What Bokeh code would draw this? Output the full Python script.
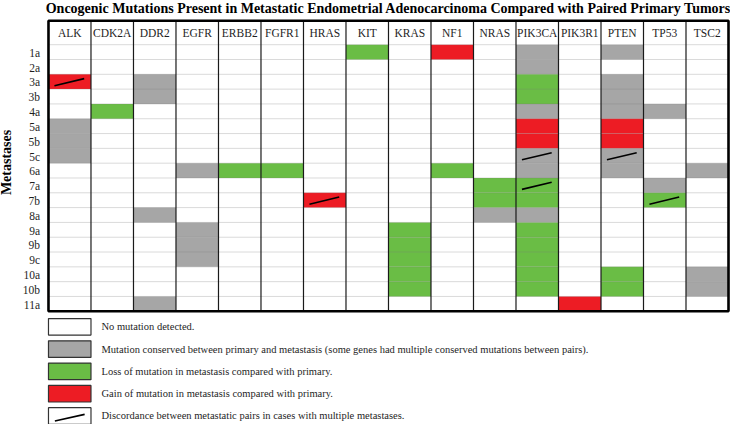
import math
from bokeh.plotting import figure
from bokeh.models import Range1d, ColumnDataSource
from bokeh.core.properties import value
from bokeh.embed import file_html
from bokeh.resources import INLINE

# ---------------- data ----------------
title = ("Oncogenic Mutations Present in Metastatic Endometrial Adenocarcinoma "
         "Compared with Paired Primary Tumors")
axis_label = "Metastases"
genes = ["ALK", "CDK2A", "DDR2", "EGFR", "ERBB2", "FGFR1", "HRAS", "KIT", "KRAS",
         "NF1", "NRAS", "PIK3CA", "PIK3R1", "PTEN", "TP53", "TSC2"]
metastases = ["1a", "2a", "3a", "3b", "4a", "5a", "5b", "5c", "6a", "7a", "7b",
              "8a", "9a", "9b", "9c", "10a", "10b", "11a"]

conserved = [("ALK", "5a"), ("ALK", "5b"), ("ALK", "5c"),
             ("DDR2", "3a"), ("DDR2", "3b"), ("DDR2", "8a"), ("DDR2", "11a"),
             ("EGFR", "6a"), ("EGFR", "9a"), ("EGFR", "9b"), ("EGFR", "9c"),
             ("NRAS", "8a"),
             ("PIK3CA", "1a"), ("PIK3CA", "2a"), ("PIK3CA", "4a"), ("PIK3CA", "5c"),
             ("PIK3CA", "6a"), ("PIK3CA", "8a"),
             ("PTEN", "1a"), ("PTEN", "3a"), ("PTEN", "3b"), ("PTEN", "4a"),
             ("PTEN", "5c"), ("PTEN", "6a"),
             ("TP53", "4a"), ("TP53", "7a"),
             ("TSC2", "6a"), ("TSC2", "10a"), ("TSC2", "10b")]
loss = [("CDK2A", "4a"), ("ERBB2", "6a"), ("FGFR1", "6a"), ("KIT", "1a"),
        ("KRAS", "9a"), ("KRAS", "9b"), ("KRAS", "9c"), ("KRAS", "10a"), ("KRAS", "10b"),
        ("NF1", "6a"), ("NRAS", "7a"), ("NRAS", "7b"),
        ("PIK3CA", "3a"), ("PIK3CA", "3b"), ("PIK3CA", "7a"), ("PIK3CA", "7b"),
        ("PIK3CA", "9a"), ("PIK3CA", "9b"), ("PIK3CA", "9c"), ("PIK3CA", "10a"),
        ("PIK3CA", "10b"),
        ("PTEN", "10a"), ("PTEN", "10b"), ("TP53", "7b")]
gain = [("ALK", "3a"), ("HRAS", "7b"), ("NF1", "1a"), ("PIK3CA", "5a"),
        ("PIK3CA", "5b"), ("PIK3R1", "11a"), ("PTEN", "5a"), ("PTEN", "5b")]
discordant = [("ALK", "3a"), ("HRAS", "7b"), ("PIK3CA", "5c"), ("PIK3CA", "7a"),
              ("PTEN", "5c"), ("TP53", "7b")]

legend_labels = [
    "No mutation detected.",
    "Mutation conserved between primary and metastasis (some genes had multiple conserved mutations between pairs).",
    "Loss of mutation in metastasis compared with primary.",
    "Gain of mutation in metastasis compared with primary.",
    "Discordance between metastatic pairs in cases with multiple metastases.",
]

# ---------------- styles ----------------
WHITE, GRAY, GREEN, RED = "#FFFFFF", "#A6A6A6", "#6ABD45", "#ED1C24"
FONT = value("Liberation Serif")
TXT = "#1E1E1E"

NC, NR = len(genes), len(metastases)
HEADER_H = 1.614          # header row height (row units)
LEG_Y0, LEG_STEP, LEG_H = 18.49, 1.505, 1.12

p = figure(width=730, height=424,
           x_range=Range1d(-1.129, 16.047), y_range=Range1d(25.645, -2.984),
           output_backend="svg", toolbar_location=None,
           x_axis_location=None, y_axis_location=None, min_border=0)
p.outline_line_color = None
p.grid.visible = False
p.background_fill_color = "white"
p.border_fill_color = "white"

# ---------------- cells ----------------
cells = {"left": [], "right": [], "top": [], "bottom": [], "color": []}
for lst, col in ((conserved, GRAY), (loss, GREEN), (gain, RED)):
    for g, m in lst:
        c, r = genes.index(g), metastases.index(m)
        cells["left"].append(c)
        cells["right"].append(c + 1)
        cells["top"].append(r)
        cells["bottom"].append(r + 1)
        cells["color"].append(col)
p.quad(left="left", right="right", top="top", bottom="bottom",
       fill_color="color", line_color=None, source=ColumnDataSource(cells))

# horizontal row lines
hy = list(range(0, NR))
p.segment(x0=[0] * len(hy), x1=[NC] * len(hy), y0=hy, y1=hy,
          line_color="#7A7A7A", line_alpha=0.28, line_width=1)

# vertical column lines
vx = list(range(1, NC))
p.segment(x0=vx, x1=vx, y0=[-HEADER_H] * len(vx), y1=[NR] * len(vx),
          line_color="#1A1A1A", line_width=1.2)

# discordance slashes
dx0 = [genes.index(g) + 0.14 for g, m in discordant]
dx1 = [genes.index(g) + 0.84 for g, m in discordant]
dy0 = [metastases.index(m) + 0.77 for g, m in discordant]
dy1 = [metastases.index(m) + 0.29 for g, m in discordant]
p.segment(x0=dx0, x1=dx1, y0=dy0, y1=dy1, line_color="black", line_width=1.6)

# outer border
p.quad(left=[0], right=[NC], top=[-HEADER_H], bottom=[NR],
       fill_color=None, line_color="black", line_width=2.6)

# header labels
p.text(x=[i + 0.5 for i in range(NC)], y=[-HEADER_H / 2 + 0.05] * NC, text=genes,
       text_font=FONT, text_font_size="11.5px", text_color=TXT,
       text_align="center", text_baseline="middle")

# row labels
p.text(x=[-0.2] * NR, y=[r + 0.55 for r in range(NR)], text=metastases,
       text_font=FONT, text_font_size="11.5px", text_color=TXT,
       text_align="right", text_baseline="middle")

# title
p.text(x=[NC / 2], y=[-2.424], text=[title], text_font=FONT,
       text_font_size="14px", text_font_style="bold", text_color="black",
       text_align="center", text_baseline="middle")

# rotated axis label
p.text(x=[-0.988], y=[7.95], text=[axis_label], angle=math.pi / 2,
       text_font=FONT, text_font_size="14px", text_font_style="bold",
       text_color="black", text_align="center", text_baseline="middle")

# ---------------- legend ----------------
n_leg = len(legend_labels)
ltop = [LEG_Y0 + k * LEG_STEP for k in range(n_leg)]
lbot = [t + LEG_H for t in ltop]
p.quad(left=[0] * n_leg, right=[1] * n_leg, top=ltop, bottom=lbot,
       fill_color=[WHITE, GRAY, GREEN, RED, WHITE],
       line_color="#333333", line_width=1.2)
p.text(x=[1.247] * n_leg, y=[(t + b) / 2 for t, b in zip(ltop, lbot)],
       text=legend_labels, text_font=FONT, text_font_size="10.5px",
       text_color=TXT, text_align="left", text_baseline="middle")
p.segment(x0=[0.15], x1=[0.85], y0=[lbot[-1] - 0.22], y1=[ltop[-1] + 0.45],
          line_color="black", line_width=1.6)

open("out.html", "w").write(file_html(p, INLINE))
